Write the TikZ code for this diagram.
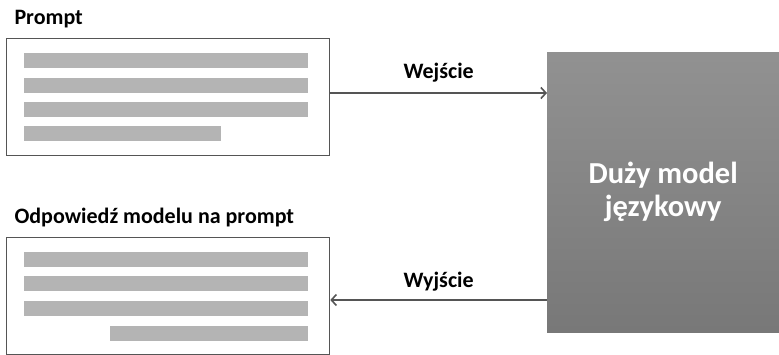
\documentclass[tikz,border=0pt]{standalone}
\usepackage{fontspec}
\setmainfont{Carlito}
\usetikzlibrary{arrows.meta}
\usetikzlibrary{positioning}

\definecolor{ramka}{HTML}{555555}
\definecolor{pasek}{HTML}{B4B4B4}

\begin{document}
\begin{tikzpicture}[
            x=1pt, y=-1pt,
            textbox/.style={draw=ramka, line width=1.3pt, fill=white, inner sep=0pt,
                            minimum width=323pt, minimum height=117pt, anchor=north west},
            bar/.style={fill=pasek},
            title/.style={font=\bfseries\fontsize{22}{26}\selectfont, anchor=base west},
            arrowlabel/.style={font=\bfseries\fontsize{22}{26}\selectfont, anchor=base},
            flow/.style={-{Straight Barb[length=5pt, width=11pt, line width=1.6pt]}, line width=1.6pt, draw=ramka},
            llm/.style={draw=none, top color=black!43, bottom color=black!53, inner sep=0pt,
                        minimum width=232pt, minimum height=280pt, anchor=north west,
                        text=white, align=center, font=\bfseries\fontsize{30.5}{33}\selectfont}
        ]
            % Ramka strony
            \useasboundingbox (0,0) rectangle (779,354);

            % Prompt
            \node[title] (ptitle) at (11,24) {Prompt};
            \node[textbox] (prompt) at (6,38) {};
            \foreach \y/\xe in {53/308, 78/308, 102/308, 126/221}
                \fill[bar] (24,\y) rectangle (\xe,\y+15);

            % Odpowiedz modelu
            \node[title] (otitle) at (11,223) {Odpowiedź modelu na prompt};
            \node[textbox] (answer) at (6,237) {};
            \foreach \y/\xs in {252/24, 276/24, 301/24, 326/110}
                \fill[bar] (\xs,\y) rectangle (308,\y+15);

            % Duzy model jezykowy
            \node[llm] (model) at (547,52) {Duży model\\językowy};

            % Strzalki
            \coordinate (wej) at (model.west |- 0,93);
            \coordinate (wyj) at (model.west |- 0,300);
            \draw[flow] (prompt.east |- wej) -- node[arrowlabel, yshift=15pt] (wejlabel) {Wejście} (wej);
            \draw[flow] (wyj) -- node[arrowlabel, yshift=13pt] (wyjlabel) {Wyjście} (answer.east |- wyj);

        \end{tikzpicture}
\end{document}
